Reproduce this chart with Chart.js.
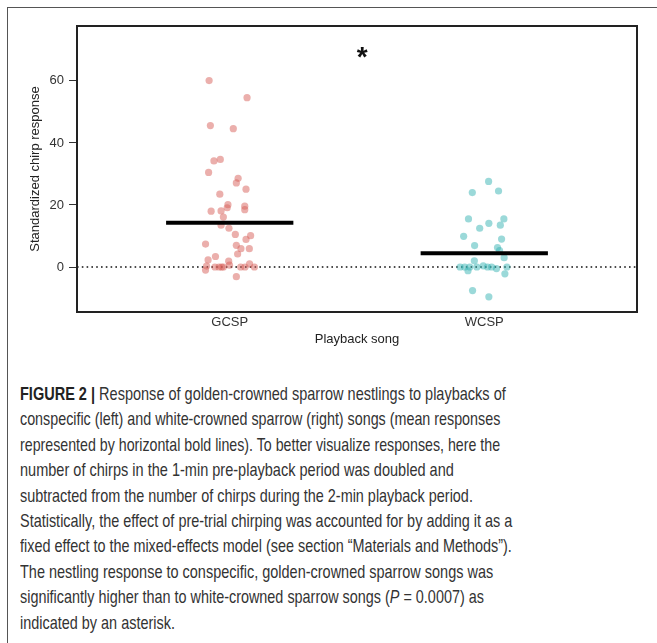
<!DOCTYPE html>
<html>
<head>
<meta charset="utf-8">
<script src="https://cdn.jsdelivr.net/npm/chart.js@4"></script>
<style>
  html, body { margin: 0; padding: 0; background: #fff; }
  body { width: 657px; height: 643px; position: relative; overflow: hidden; }
  #frame {
    position: absolute; left: 7px; top: 7px; width: 700px; height: 700px;
    border-top: 1px solid #555; border-left: 1px solid #555;
  }
  #chart-wrap { position: absolute; left: 0; top: 0; width: 657px; height: 360px; }
  #caption {
    position: absolute; left: 20px; top: 381px;
    font-family: "Liberation Sans Narrow", "Liberation Sans", Arial, sans-serif;
    font-size: 19px; color: #333; line-height: 25.4px;
  }
  #caption div { white-space: nowrap; width: max-content; transform-origin: 0 50%; }
  #caption b { color: #222; }
</style>
</head>
<body>
<div id="frame"></div>
<div id="chart-wrap"><canvas id="chirpChart" width="657" height="360"></canvas></div>
<div id="caption">
  <div data-w="486"><b>FIGURE 2 |</b> Response of golden-crowned sparrow nestlings to playbacks of</div>
  <div data-w="480">conspecific (left) and white-crowned sparrow (right) songs (mean responses</div>
  <div data-w="480">represented by horizontal bold lines). To better visualize responses, here the</div>
  <div data-w="434">number of chirps in the 1-min pre-playback period was doubled and</div>
  <div data-w="453">subtracted from the number of chirps during the 2-min playback period.</div>
  <div data-w="492">Statistically, the effect of pre-trial chirping was accounted for by adding it as a</div>
  <div data-w="492">fixed effect to the mixed-effects model (see section “Materials and Methods”).</div>
  <div data-w="473">The nestling response to conspecific, golden-crowned sparrow songs was</div>
  <div data-w="464">significantly higher than to white-crowned sparrow songs (<i>P</i> = 0.0007) as</div>
  <div data-w="155">indicated by an asterisk.</div>
</div>
<script>
// categories and tick labels
const categories = ["GCSP", "WCSP"];
const yTicks = [0, 20, 40, 60];

// GCSP responses (jittered x position, response)
const gcspX = [0.919, 1.068, 0.924, 1.014, 0.938, 0.963, 0.917, 1.033, 1.026, 1.064,
  0.961, 0.993, 0.990, 1.059, 1.059, 0.927, 0.966, 0.975, 0.966, 0.997,
  1.022, 1.082, 1.064, 0.905, 1.026, 1.044, 1.077, 1.031, 0.944, 0.915,
  0.996, 0.909, 0.905, 0.942, 0.958, 0.968, 0.999, 1.043, 1.060, 1.078,
  1.097, 1.026, 0.975];
const gcspY = [60.1, 54.6, 45.6, 44.6, 34.2, 34.7, 30.5, 28.6, 27.1, 25.1,
  23.5, 20.1, 19.1, 19.6, 18.5, 18.0, 18.1, 16.1, 13.5, 12.5,
  10.5, 10.1, 8.9, 7.4, 7.0, 5.9, 5.9, 4.2, 3.4, 2.3,
  1.9, 0.3, -1.0, 0, 0, 0, 0.6, 0, 0, 1.0,
  0, -3.1, 0];

// WCSP responses
const wcspX = [2.017, 1.953, 2.056, 1.938, 2.077, 2.018, 2.063, 1.982, 1.919, 2.068,
  1.962, 2.052, 2.060, 2.078, 1.961, 1.905, 1.923, 1.943, 1.936, 1.971,
  1.996, 2.013, 2.029, 2.048, 2.089, 2.081, 1.954, 2.018];
const wcspY = [27.6, 24.0, 24.5, 15.5, 15.5, 14.1, 13.5, 12.5, 9.9, 9.0,
  6.9, 6.3, 5.3, 3.0, 2.0, 0, 0, 0, -1.2, 0,
  0.4, 0, 0, -0.5, 0, -2.2, -7.6, -9.6];

// mean responses
const means = [14.3, 4.4];

// significance marker
const sigMark = { x: 1.52, y: 69, text: "*" };

const X_MIN = 0.4, X_MAX = 2.6, Y_MIN = -14.5, Y_MAX = 77.7;
const MEAN_HALF = 0.25;

function toPoints(xs, ys) {
  return xs.map((x, i) => ({ x: x, y: ys[i] }));
}

const chartFont = { family: "Liberation Sans, Arial, sans-serif", size: 13 };

const boxAndMarks = {
  id: "boxAndMarks",
  afterDraw(chart) {
    const { ctx, chartArea, scales } = chart;
    ctx.save();
    ctx.strokeStyle = "#222";
    ctx.lineWidth = 2;
    ctx.strokeRect(chartArea.left, chartArea.top, chartArea.right - chartArea.left, chartArea.bottom - chartArea.top);
    ctx.fillStyle = "#111";
    ctx.font = "bold 28px 'Liberation Sans', Arial, sans-serif";
    ctx.textAlign = "center";
    ctx.textBaseline = "middle";
    ctx.fillText(sigMark.text, scales.x.getPixelForValue(sigMark.x), scales.y.getPixelForValue(sigMark.y) + 5);
    ctx.restore();
  },
};

const ctx = document.getElementById("chirpChart").getContext("2d");

new Chart(ctx, {
  type: "scatter",
  data: {
    datasets: [
      {
        label: "zero",
        type: "line",
        data: [{ x: X_MIN, y: 0 }, { x: X_MAX, y: 0 }],
        borderColor: "#111",
        borderWidth: 1.6,
        borderDash: [1.6, 3.2],
        pointRadius: 0,
        order: 3,
      },
      {
        label: categories[0],
        data: toPoints(gcspX, gcspY),
        backgroundColor: "rgba(215, 95, 90, 0.5)",
        borderWidth: 0,
        pointRadius: 3.6,
        order: 2,
      },
      {
        label: categories[1],
        data: toPoints(wcspX, wcspY),
        backgroundColor: "rgba(55, 180, 180, 0.5)",
        borderWidth: 0,
        pointRadius: 3.6,
        order: 2,
      },
      ...means.map((m, i) => ({
        label: "mean " + categories[i],
        type: "line",
        data: [{ x: i + 1 - MEAN_HALF, y: m }, { x: i + 1 + MEAN_HALF, y: m }],
        borderColor: "#000",
        borderWidth: 4,
        pointRadius: 0,
        order: 1,
      })),
    ],
  },
  options: {
    responsive: false,
    animation: false,
    layout: { padding: { left: 0, top: 26, right: 20, bottom: 0 } },
    plugins: {
      legend: { display: false },
      tooltip: { enabled: false },
    },
    scales: {
      x: {
        type: "linear",
        min: X_MIN,
        max: X_MAX,
        afterBuildTicks: (axis) => {
          axis.ticks = categories.map((c, i) => ({ value: i + 1 }));
        },
        afterFit: (axis) => { axis.height = 48; },
        ticks: {
          callback: (v) => categories[v - 1],
          font: chartFont,
          color: "#333",
          padding: 3,
          maxRotation: 0,
        },
        grid: { display: false, drawTicks: false },
        border: { display: false },
        title: {
          display: true,
          text: "Playback song",
          font: chartFont,
          color: "#222",
          padding: { top: 0, bottom: 13 },
        },
      },
      y: {
        min: Y_MIN,
        max: Y_MAX,
        afterBuildTicks: (axis) => {
          axis.ticks = yTicks.map((v) => ({ value: v }));
        },
        afterFit: (axis) => { axis.width = 77; },
        ticks: {
          font: chartFont,
          color: "#333",
          padding: 5,
        },
        grid: { drawOnChartArea: false, drawTicks: true, tickLength: 8, color: "#333" },
        border: { display: false },
        title: {
          display: true,
          text: "Standardized chirp response",
          font: chartFont,
          color: "#222",
          padding: { top: 28, bottom: 0 },
        },
      },
    },
  },
  plugins: [boxAndMarks],
});

// fit each caption line to its width in the figure
document.querySelectorAll("#caption div").forEach((el) => {
  const target = parseFloat(el.dataset.w);
  const w = el.getBoundingClientRect().width;
  if (w > 0) el.style.transform = "scaleX(" + (target / w).toFixed(3) + ")";
});
</script>
</body>
</html>
